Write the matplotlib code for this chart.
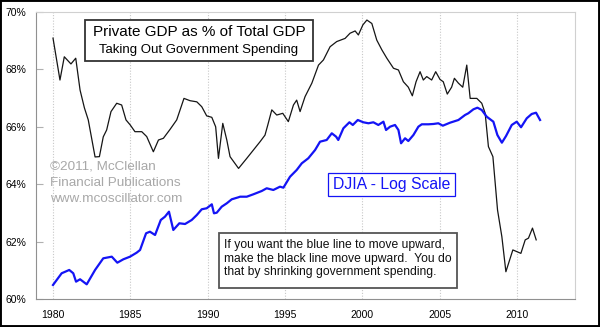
import matplotlib
matplotlib.use("Agg")
import matplotlib.pyplot as plt
from matplotlib.patches import Rectangle

plt.rcParams['font.family'] = ['Liberation Sans', 'DejaVu Sans']

# Private GDP as % of total GDP
gdp_years = [1980.0, 1980.45, 1980.73, 1981.16, 1981.47, 1981.75, 1982.03, 1982.28, 1982.72, 1983.0,
             1983.25, 1983.47, 1983.75, 1984.12, 1984.44, 1984.72, 1985.0, 1985.3, 1985.74, 1986.06,
             1986.49, 1986.82, 1987.14, 1987.57, 1988.0, 1988.47, 1988.86, 1989.3, 1989.62, 1989.94,
             1990.27, 1990.52, 1990.7, 1990.98, 1991.24, 1991.45, 1992.0, 1992.53, 1992.96, 1993.39,
             1993.71, 1993.89, 1994.15, 1994.47, 1994.86, 1995.22, 1995.55, 1995.76, 1995.98, 1996.3,
             1996.74, 1997.17, 1997.49, 1997.92, 1998.35, 1998.89, 1999.21, 1999.54, 1999.75, 2000.04,
             2000.3, 2000.62, 2000.94, 2001.27, 2001.59, 2002.02, 2002.34, 2002.66, 2002.98, 2003.24,
             2003.48, 2003.74, 2003.95, 2004.17, 2004.49, 2004.75, 2005.03, 2005.24, 2005.5, 2005.78,
             2005.96, 2006.22, 2006.5, 2006.76, 2006.98, 2007.41, 2007.73, 2007.95, 2008.16, 2008.45,
             2008.75, 2009.03, 2009.29, 2009.74, 2010.0, 2010.26, 2010.54, 2010.75, 2011.01, 2011.25]
gdp_pct = [69.09, 67.63, 68.44, 68.19, 68.39, 67.28, 66.66, 66.24, 64.95, 64.96,
           65.65, 65.89, 66.53, 66.82, 66.76, 66.24, 66.06, 65.83, 65.83, 65.66,
           65.13, 65.54, 65.60, 65.91, 66.24, 66.99, 66.91, 66.87, 66.70, 66.38,
           66.33, 66.00, 64.90, 66.12, 65.54, 64.96, 64.55, 64.90, 65.19, 65.48,
           65.71, 66.06, 66.59, 66.41, 66.47, 66.18, 66.76, 66.93, 66.53, 67.05,
           67.52, 68.15, 68.33, 68.79, 68.97, 69.08, 69.26, 69.34, 69.20, 69.55,
           69.72, 69.60, 69.02, 68.68, 68.39, 68.04, 67.98, 67.57, 67.38, 67.08,
           67.57, 67.92, 67.63, 67.75, 67.63, 67.92, 67.65, 67.57, 67.14, 67.38,
           67.69, 67.52, 67.38, 68.15, 66.99, 66.99, 66.82, 66.47, 65.31, 64.96,
           63.10, 62.17, 60.95, 61.71, 61.65, 61.59, 62.06, 62.12, 62.47, 62.06]

# DJIA, plotted on a log scale
djia_years = [1980.0, 1980.56, 1981.05, 1981.31, 1981.49, 1981.75, 1982.18, 1982.72, 1983.25, 1983.8,
              1984.16, 1984.55, 1984.98, 1985.41, 1985.63, 1986.02, 1986.27, 1986.6, 1986.97, 1987.24,
              1987.5, 1987.78, 1988.17, 1988.54, 1988.97, 1989.3, 1989.62, 1989.94, 1990.27, 1990.41,
              1990.59, 1990.91, 1991.24, 1991.56, 1991.99, 1992.1, 1992.53, 1992.96, 1993.5, 1993.82,
              1994.25, 1994.68, 1994.9, 1995.33, 1995.76, 1996.09, 1996.51, 1996.95, 1997.27, 1997.7,
              1998.03, 1998.31, 1998.45, 1998.78, 1999.17, 1999.39, 1999.71, 2000.07, 2000.4, 2000.72,
              2001.04, 2001.37, 2001.54, 2001.8, 2002.12, 2002.34, 2002.51, 2002.77, 2002.98, 2003.31,
              2003.63, 2003.85, 2004.28, 2004.6, 2004.92, 2005.21, 2005.68, 2006.22, 2006.65, 2006.86,
              2007.19, 2007.45, 2007.73, 2008.05, 2008.48, 2008.74, 2009.03, 2009.3, 2009.67, 2009.99,
              2010.27, 2010.64, 2010.96, 2011.24, 2011.5]
djia = [860, 1034, 1089, 1034, 906, 941, 869, 1089, 1308, 1342,
        1221, 1288, 1342, 1429, 1491, 1939, 1987, 1887, 2389, 2516,
        2722, 2042, 2268, 2243, 2389, 2584, 2827, 2872, 3057, 2654,
        2679, 2944, 3106, 3307, 3413, 3445, 3445, 3578, 3768, 3932,
        3829, 4032, 3969, 4717, 5242, 5823, 6300, 7178, 8180, 8401,
        9333, 8849, 8401, 10098, 11095, 10636, 11502, 11095, 10924, 11095,
        10636, 11200, 9830, 10353, 10636, 9830, 7976, 8628, 8268, 9087,
        10353, 10750, 10750, 10803, 10924, 10518, 11025, 11502, 12444, 12780,
        13605, 13957, 13459, 12117, 11200, 9087, 8051, 8944, 10636, 11200,
        10260, 11816, 12642, 12900, 11502]

year_ticks = [1980, 1985, 1990, 1995, 2000, 2005, 2010]
pct_ticks = [60, 62, 64, 66, 68, 70]

W, H = 600, 327
fig = plt.figure(figsize=(6, 3.27), dpi=100)
fig.patch.set_facecolor('white')

ax = fig.add_axes([36 / W, 1 - 299 / H, (575 - 36) / W, (299 - 12) / H])
ax.plot(gdp_years, gdp_pct, color='#151515', lw=0.9)
ax.set_xlim(1978.9, 2013.76)
ax.set_ylim(60, 70)
ax.set_xticks(year_ticks)
ax.set_xticklabels([str(y) for y in year_ticks], fontsize=7.5)
ax.set_yticks(pct_ticks)
ax.set_yticklabels([f'{p}%' for p in pct_ticks], fontsize=7.5)
ax.tick_params(axis='x', length=0, pad=8)
ax.tick_params(axis='y', direction='in', length=5, color='#b0b0b0', pad=7)
ax.grid(axis='x', color='#c8c8c8', linestyle=(0, (1, 1.5)), lw=0.8)
ax.spines['left'].set_color('#909090')
ax.spines['bottom'].set_color('#909090')
ax.spines['top'].set_color('#d0d0d0')
ax.spines['right'].set_color('#d0d0d0')

ax2 = ax.twinx()
ax2.set_yscale('log')
ax2.plot(djia_years, djia, color='#1414f5', lw=1.6)
ax2.set_ylim(690, 62800)
ax2.set_yticks([])
ax2.minorticks_off()
ax2.tick_params(axis='y', which='both', length=0, labelright=False)
for s in ax2.spines.values():
    s.set_visible(False)


def box(x0, y0, x1, y1, ec, lw):
    fig.add_artist(Rectangle((x0 / W, 1 - y1 / H), (x1 - x0) / W, (y1 - y0) / H,
                             transform=fig.transFigure, facecolor='white',
                             edgecolor=ec, lw=lw, zorder=5))


def label(x, y, s, **kw):
    fig.text(x / W, 1 - y / H, s, zorder=6, **kw)


box(85, 20, 313, 61, '#333333', 1.3)
label(199, 31.5, 'Private GDP as % of Total GDP', fontsize=11, ha='center', va='center')
label(199, 50, 'Taking Out Government Spending', fontsize=9.5, ha='center', va='center')

box(328, 173, 455, 196, '#1414f5', 0.9)
label(391.5, 184.5, 'DJIA - Log Scale', fontsize=11.3, color='#1414f5', ha='center', va='center')

box(219, 233, 457, 288, '#555555', 1.3)
note = ['If you want the blue line to move upward,',
        'make the black line move upward.  You do',
        'that by shrinking government spending.']
for i, line in enumerate(note):
    label(224, 245 + 13.6 * i, line, fontsize=8.7, color='#111111', ha='left', va='center')

credit = ['\u00a92011, McClellan', 'Financial Publications', 'www.mcoscillator.com']
for i, line in enumerate(credit):
    label(50, 166.5 + 16.3 * i, line, fontsize=9.7, color='#a8a8a8', ha='left', va='center')

fig.add_artist(Rectangle((0, 0), 1, 1, transform=fig.transFigure, fill=False,
                         edgecolor='black', lw=2.8, zorder=10))

fig.savefig('out.png', dpi=100, facecolor='white')
